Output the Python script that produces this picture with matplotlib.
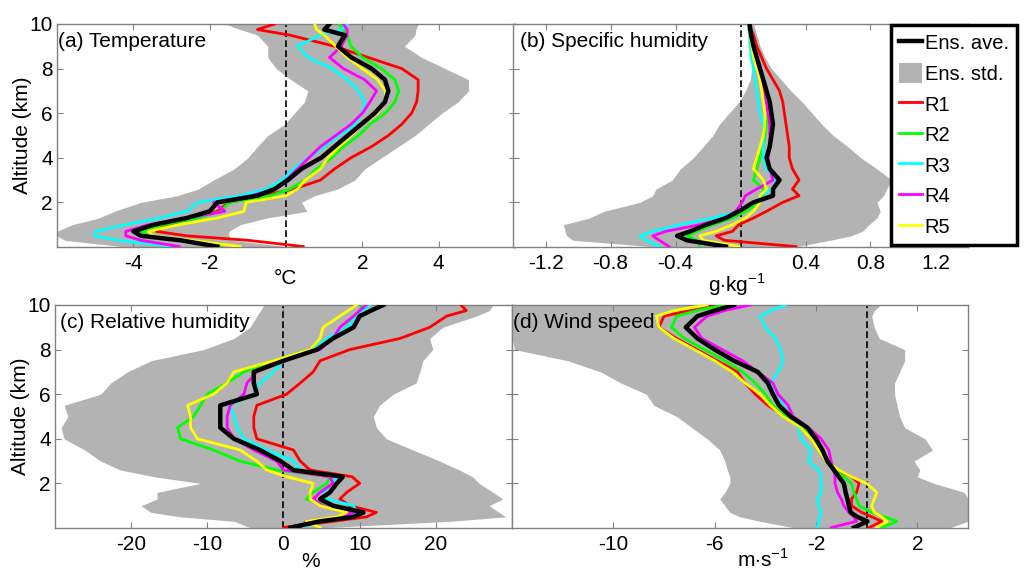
import numpy as np
import matplotlib
matplotlib.use("Agg")
import matplotlib.pyplot as plt
from matplotlib.lines import Line2D
from matplotlib.patches import Patch

plt.rcParams['font.family'] = ['Liberation Sans', 'DejaVu Sans']
plt.rcParams['font.size'] = 15
plt.rcParams['axes.unicode_minus'] = False
plt.rcParams['mathtext.fontset'] = 'custom'
plt.rcParams['mathtext.rm'] = 'Liberation Sans'

# altitude levels (km), shared by all profiles
alt = [0.02, 0.3, 0.5, 0.7, 1.0, 1.3, 1.6, 2.0, 2.3, 2.6, 3.0, 3.5, 4.0, 4.5, 5.0,
       5.5, 6.0, 6.5, 7.0, 7.5, 8.0, 8.5, 9.0, 9.5, 9.75, 10.0]

# (a) temperature, degC
a_lo = [-4.3, -5.8, -6.0, -6.0, -5.6, -4.9, -4.5, -3.8, -2.85, -2.3, -1.9, -1.36, -1.0,
        -0.75, -0.48, -0.04, 0.22, 0.48, 0.57, 0.13, -0.26, -0.48, -0.48, -0.75, -1.2, -1.6]
a_hi = [0.0, -1.4, -1.5, -1.5, -1.2, -0.5, 0.55, 0.4, 0.75, 1.35, 1.8, 2.06, 2.5, 2.94,
        3.38, 3.73, 4.08, 4.5, 4.78, 4.78, 4.17, 3.55, 3.1, 3.38, 3.4, 3.46]
a_ave = [-1.8, -2.76, -3.8, -4.0, -3.46, -2.6, -2.0, -1.8, -0.75, -0.3, 0.05, 0.4, 0.92,
         1.27, 1.62, 1.97, 2.32, 2.59, 2.68, 2.59, 2.24, 1.71, 1.36, 1.54, 1.0, 1.14]
a_r1 = [0.45, -1.0, -2.6, -3.4, -3.1, -2.4, -1.8, -1.5, -0.6, 0.2, 0.9, 1.27, 1.7, 2.24,
        2.68, 3.03, 3.29, 3.42, 3.46, 3.46, 3.03, 2.15, 1.27, 0.1, -0.75, -0.3]
a_r2 = [-1.7, -2.6, -3.6, -3.8, -3.2, -2.3, -1.7, -1.5, -0.4, 0.1, 0.5, 0.8, 1.2, 1.5,
        1.9, 2.2, 2.6, 2.85, 2.95, 2.85, 2.5, 2.0, 1.7, 1.6, 1.5, 1.4]
a_r3 = [-3.0, -4.4, -5.0, -5.0, -4.2, -3.3, -2.6, -2.3, -1.2, -0.5, -0.1, 0.2, 0.6, 1.0,
        1.4, 1.8, 2.0, 2.06, 1.9, 1.6, 1.2, 0.57, 0.3, 0.9, 1.45, 1.6]
a_r4 = [-2.8, -3.8, -4.2, -4.2, -3.6, -2.6, -1.6, -1.9, -0.9, -0.3, 0.0, 0.3, 0.6, 0.9,
        1.3, 1.7, 2.0, 2.2, 2.37, 2.06, 1.5, 1.14, 1.45, 1.6, 1.6, 1.5]
a_r5 = [-1.2, -2.5, -3.5, -3.6, -2.8, -1.8, -1.1, -1.05, 0.0, 0.3, 0.5, 0.9, 1.1, 1.4,
        1.7, 2.0, 2.4, 2.6, 2.6, 2.4, 2.0, 1.6, 1.3, 1.0, 0.8, 0.75]

# (b) specific humidity, g/kg
b_lo = [-0.55, -1.03, -1.07, -1.08, -1.09, -0.93, -0.84, -0.62, -0.54, -0.52, -0.42, -0.37,
        -0.29, -0.23, -0.17, -0.13, -0.07, -0.01, 0.03, 0.06, 0.07, 0.07, 0.065, 0.055, 0.05, 0.045]
b_hi = [0.35, 0.55, 0.68, 0.75, 0.79, 0.84, 0.86, 0.84, 0.88, 0.9, 0.93, 0.84, 0.74, 0.66,
        0.57, 0.5, 0.44, 0.38, 0.31, 0.25, 0.19, 0.15, 0.12, 0.10, 0.09, 0.08]
b_ave = [-0.09, -0.33, -0.39, -0.31, -0.21, -0.09, -0.01, 0.08, 0.20, 0.20, 0.24, 0.18, 0.16,
         0.18, 0.19, 0.20, 0.19, 0.18, 0.16, 0.14, 0.12, 0.10, 0.08, 0.065, 0.06, 0.055]
b_r1 = [0.34, -0.1, -0.15, -0.05, -0.01, 0.08, 0.16, 0.26, 0.36, 0.32, 0.36, 0.32, 0.30,
        0.30, 0.29, 0.28, 0.27, 0.26, 0.24, 0.20, 0.16, 0.13, 0.10, 0.08, 0.065, 0.055]
b_r2 = [-0.25, -0.27, -0.33, -0.27, -0.17, -0.05, 0.03, 0.12, 0.14, 0.14, 0.08, 0.10, 0.12,
        0.14, 0.15, 0.16, 0.17, 0.16, 0.15, 0.13, 0.11, 0.095, 0.08, 0.065, 0.06, 0.055]
b_r3 = [-0.50, -0.58, -0.62, -0.54, -0.37, -0.17, -0.01, 0.10, 0.12, 0.20, 0.22, 0.16, 0.14,
        0.14, 0.14, 0.14, 0.12, 0.11, 0.10, 0.09, 0.08, 0.065, 0.06, 0.055, 0.05, 0.05]
b_r4 = [-0.44, -0.50, -0.54, -0.46, -0.25, -0.09, -0.03, 0.01, 0.03, 0.10, 0.20, 0.18, 0.17,
        0.18, 0.18, 0.18, 0.17, 0.16, 0.15, 0.13, 0.11, 0.095, 0.08, 0.065, 0.06, 0.055]
b_r5 = [-0.01, -0.23, -0.25, -0.15, -0.05, 0.03, 0.08, 0.12, 0.12, 0.16, 0.14, 0.08, 0.10,
        0.12, 0.14, 0.15, 0.15, 0.14, 0.13, 0.12, 0.10, 0.08, 0.07, 0.06, 0.055, 0.05]

# (c) relative humidity, %
c_lo = [-4.4, -6.5, -13.5, -17.4, -18.7, -16.6, -16.6, -10.9, -17.0, -21.4, -24.0, -26.1,
        -28.8, -29.2, -28.3, -28.8, -24.0, -22.7, -20.5, -17.4, -10.5, -6.5, -4.4, -3.5, -3.0, -2.6]
c_hi = [5.7, 21.8, 29.2, 28.3, 27.0, 28.8, 27.5, 25.7, 24.8, 23.1, 20.5, 17.0, 13.5, 12.2,
        11.8, 12.6, 14.4, 17.4, 17.9, 18.3, 19.6, 19.2, 20.9, 25.3, 27.0, 27.5]
c_ave = [0.9, 4.8, 9.2, 10.5, 6.5, 4.8, 6.1, 7.0, 7.8, 1.3, -0.4, -3.1, -6.5, -8.3, -8.3,
         -8.3, -3.5, -3.9, -3.9, 0.0, 4.4, 6.5, 9.2, 10.0, 11.5, 13.1]
c_r1 = [0.0, 6.5, 10.9, 12.2, 8.7, 7.4, 8.3, 10.0, 9.0, 3.5, 2.2, 1.3, -3.5, -3.9, -3.9,
        -3.5, 0.4, 2.2, 3.9, 4.8, 8.7, 15.3, 19.2, 21.4, 24.0, 23.3]
c_r2 = [1.3, 3.9, 7.8, 8.7, 6.5, 3.0, 3.9, 5.7, 6.1, -0.9, -5.7, -9.2, -13.5, -13.9, -11.8,
        -10.9, -10.0, -7.4, -5.2, -1.3, 3.5, 6.5, 8.3, 9.2, 10.0, 10.5]
c_r3 = [2.2, 4.8, 8.7, 9.6, 9.2, 5.7, 5.2, 6.5, 7.0, 2.2, 1.3, -2.2, -5.2, -6.1, -6.5,
        -7.0, -3.9, -3.1, -1.3, 0.0, 3.9, 5.7, 8.3, 9.6, 10.5, 11.3]
c_r4 = [2.2, 3.0, 7.8, 9.2, 5.2, 3.9, 4.8, 6.5, 6.1, 0.0, -0.9, -3.9, -6.5, -7.4, -7.4,
        -7.0, -5.2, -4.8, -3.5, -0.9, 4.8, 6.5, 7.4, 9.2, 10.0, 10.9]
c_r5 = [4.8, 3.0, 7.0, 8.3, 4.8, 3.5, 3.5, 3.9, 0.4, -2.2, -3.5, -5.7, -11.3, -12.2, -12.2,
        -12.6, -9.2, -7.4, -6.5, -1.3, 3.5, 4.8, 5.2, 7.4, 8.5, 9.6]

# (d) wind speed, m/s
d_lo = [-2.9, -4.2, -5.0, -5.4, -5.6, -5.8, -5.6, -5.4, -5.4, -5.5, -5.6, -5.8, -6.3, -6.9,
        -7.5, -8.4, -8.7, -9.7, -10.5, -11.8, -13.9, -14.0, -14.0, -14.0, -14.0, -14.0]
d_hi = [3.3, 4.0, 4.0, 4.0, 4.0, 4.0, 3.85, 2.66, 2.0, 2.1, 1.87, 2.6, 2.3, 1.5, 1.3, 1.2,
        1.1, 1.1, 1.3, 1.5, 1.5, 0.5, 0.3, 0.2, 0.3, 0.55]
d_ave = [-0.5, 0.03, -0.37, -0.63, -0.7, -0.76, -0.83, -0.9, -1.1, -1.29, -1.55, -1.75, -2.0,
         -2.34, -3.0, -3.46, -3.7, -3.9, -4.3, -5.24, -6.0, -6.68, -7.14, -6.68, -6.0, -5.24]
d_r1 = [0.1, 0.6, 0.2, -0.2, -0.6, -0.6, -0.4, -0.3, -0.6, -1.2, -1.5, -1.8, -2.1, -2.6,
        -3.2, -3.9, -4.4, -4.8, -5.1, -5.9, -6.7, -7.5, -8.2, -8.0, -7.0, -5.9]
d_r2 = [0.6, 1.2, 0.7, 0.2, -0.3, -0.4, -0.5, -0.6, -0.9, -1.3, -1.6, -1.9, -2.2, -2.5,
        -3.2, -3.7, -4.0, -4.4, -4.9, -5.6, -6.4, -7.2, -7.7, -7.5, -6.7, -5.6]
d_r3 = [-1.95, -1.9, -1.85, -1.8, -1.9, -1.95, -1.8, -1.8, -1.8, -1.9, -2.3, -2.2, -2.6,
        -2.7, -3.0, -3.3, -3.5, -3.8, -3.5, -3.3, -3.4, -3.6, -4.0, -4.2, -3.8, -3.2]
d_r4 = [-1.4, -0.4, -0.5, -0.7, -0.9, -1.0, -1.15, -1.25, -1.25, -1.3, -1.4, -1.5, -1.8,
        -2.3, -2.9, -3.1, -3.5, -3.7, -4.3, -4.9, -5.7, -6.5, -6.8, -6.3, -5.6, -4.6]
d_r5 = [0.4, 0.8, 0.6, 0.3, 0.2, 0.3, 0.4, 0.0, -0.6, -1.1, -1.6, -1.9, -2.2, -2.6, -3.3,
        -3.8, -4.2, -4.8, -5.3, -6.0, -6.8, -7.6, -8.2, -8.3, -7.6, -6.3]

run_names = ['R1', 'R2', 'R3', 'R4', 'R5']
run_colors = ['#ff0000', '#00ff00', '#00ffff', '#ff00ff', '#ffff00']
gray = '#b3b3b3'

fig = plt.figure(figsize=(10.24, 5.76), dpi=100)

panels = [
    # rect, lo, hi, ave, runs, xlim, xticks, title, title x, unit, unit pos, ylabels
    ([0.0557, 0.5712, 0.4473, 0.3872], a_lo, a_hi, a_ave, [a_r1, a_r2, a_r3, a_r4, a_r5],
     (-6, 6), [-4, -2, 2, 4], '(a) Temperature', 0.003, '°C', (0.498, -0.14), True),
    ([0.5010, 0.5712, 0.4443, 0.3872], b_lo, b_hi, b_ave, [b_r1, b_r2, b_r3, b_r4, b_r5],
     (-1.4, 1.4), [-1.2, -0.8, -0.4, 0.4, 0.8, 1.2], '(b) Specific humidity', 0.015,
     r'g$\cdot$kg$^{\mathregular{-1}}$', (0.492, -0.17), False),
    ([0.0537, 0.0833, 0.4463, 0.3872], c_lo, c_hi, c_ave, [c_r1, c_r2, c_r3, c_r4, c_r5],
     (-30, 30), [-20, -10, 0, 10, 20], '(c) Relative humidity', 0.011, '%', (0.56, -0.152), True),
    ([0.5000, 0.0833, 0.4453, 0.3872], d_lo, d_hi, d_ave, [d_r1, d_r2, d_r3, d_r4, d_r5],
     (-14, 4), [-10, -6, -2, 2], '(d) Wind speed', 0.002,
     r'm$\cdot$s$^{\mathregular{-1}}$', (0.55, -0.143), False),
]

for rect, lo, hi, ave, runs, xlim, xticks, title, tx, unit, upos, ylab in panels:
    ax = fig.add_axes(rect)
    ax.fill_betweenx(alt, lo, hi, color=gray, lw=0, zorder=1)
    ax.axvline(0, color='k', ls=(0, (4, 2)), lw=1.2, zorder=2)
    for r, c in zip(runs, run_colors):
        ax.plot(r, alt, color=c, lw=2.0, zorder=3)
    ax.plot(ave, alt, color='k', lw=3.2, zorder=4)
    ax.set_xlim(*xlim)
    ax.set_ylim(0, 10)
    ax.set_xticks(xticks)
    ax.set_xticklabels([('%g' % t) for t in xticks])
    ax.set_yticks([2, 4, 6, 8, 10])
    if ylab:
        ax.set_ylabel('Altitude (km)', labelpad=-2)
    else:
        ax.set_yticklabels([])
    ax.tick_params(direction='in', top=True, right=True, length=4, width=0.8,
                   color='#808080', labelsize=15)
    ax.tick_params(axis='x', pad=5)
    ax.tick_params(axis='y', pad=3)
    for s in ax.spines.values():
        s.set_color('#808080')
        s.set_linewidth(1.0)
    ax.text(tx, 0.92, title, transform=ax.transAxes, va='center', ha='left',
            fontsize=15, zorder=6)
    ax.text(upos[0], upos[1], unit, transform=ax.transAxes, va='center', ha='center',
            fontsize=15)

handles = [Line2D([], [], color='k', lw=3.2), Patch(facecolor=gray, edgecolor='none')]
handles += [Line2D([], [], color=c, lw=2.0) for c in run_colors]
labels = ['Ens. ave.', 'Ens. std.'] + run_names
leg = fig.legend(handles, labels, loc='upper right', bbox_to_anchor=(0.993, 0.957),
                 frameon=True, fancybox=False, edgecolor='k', framealpha=1,
                 fontsize=14.5, handlelength=1.1, handleheight=1.1, handletextpad=0.15,
                 labelspacing=0.5, borderpad=0.4, borderaxespad=0)
leg.get_frame().set_linewidth(2.5)
leg.set_zorder(10)

fig.savefig('out.png', dpi=100)
